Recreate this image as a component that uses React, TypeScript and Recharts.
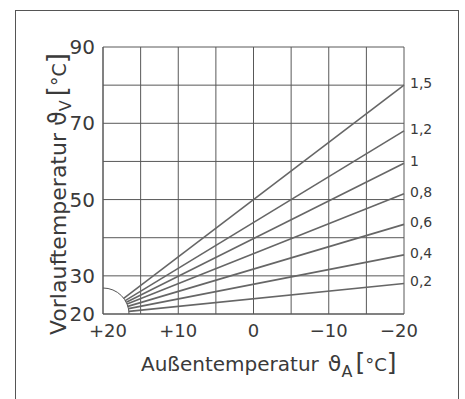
import React from "react";
import { LineChart, Line, XAxis, YAxis, CartesianGrid, ReferenceDot, LabelList } from "recharts";

// Außentemperatur (x) and Vorlauftemperatur (y) grid values
const outsideTicks = [20, 15, 10, 5, 0, -5, -10, -15, -20];
const outsideLabels: Record<string, string> = { "20": "+20", "10": "+10", "0": "0", "-10": "\u221210", "-20": "\u221220" };
const flowTicks = [20, 30, 40, 50, 60, 70, 80, 90];
const flowLabels = [90, 70, 50, 30, 20];

// heating curves: start near the arc, end at -20 °C
const curveNames = ["1,5", "1,2", "1", "0,8", "0,6", "0,4", "0,2"];
const startOutside = [17.25, 17.05, 16.9, 16.8, 16.7, 16.6, 16.55];
const startFlow = [24.1, 23.5, 23.1, 22.6, 22.0, 21.4, 20.7];
const endOutside = -20;
const endFlow = [80, 68, 59.5, 51.5, 43.5, 35.5, 28];

const curves = curveNames.map((name, i) => ({
  name,
  data: [
    { x: startOutside[i], y: startFlow[i] },
    { x: endOutside, y: endFlow[i], tag: name },
  ],
}));

const textColor = "#3a3a3a";
const gridColor = "#585858";
const curveColor = "#666";

function EndLabel(props: any) {
  const vb = props.viewBox || {};
  const x = props.x ?? vb.x;
  const y = props.y ?? vb.y;
  if (props.value === undefined || props.value === null) return null;
  return (
    <text x={x + 6} y={y + 3} fontSize={14} fill={textColor}>
      {props.value}
    </text>
  );
}

// x tick: the outer labels sit a little inside the frame, like the original
function OutsideTick(props: any) {
  const { x, y, payload } = props;
  const label = outsideLabels[String(payload.value)];
  if (!label) return null;
  const shift = payload.value === 20 ? 5 : payload.value === -20 ? -5 : 0;
  return (
    <text x={x + shift} y={y + 15} textAnchor="middle" fontSize={18} fill={textColor}>
      {label}
    </text>
  );
}

function YTitle() {
  return (
    <text x={66} y={335} transform="rotate(-90, 66, 335)" fontSize={22} fill={textColor}>
      Vorlauftemperatur
      <tspan dx={7} fontSize={24}>ϑ</tspan>
      <tspan dy={5} fontSize={16}>V</tspan>
      <tspan dy={-5} dx={4} fontSize={26}>[</tspan>
      <tspan fontSize={19}>°C</tspan>
      <tspan fontSize={26}>]</tspan>
    </text>
  );
}

function XTitle() {
  return (
    <text x={141} y={371} fontSize={20} fill={textColor}>
      Außentemperatur
      <tspan dx={9} fontSize={22}>ϑ</tspan>
      <tspan dy={6} fontSize={16}>A</tspan>
      <tspan dy={-6} dx={3} fontSize={25}>[</tspan>
      <tspan fontSize={18}>°C</tspan>
      <tspan fontSize={25}>]</tspan>
    </text>
  );
}

export default function App() {
  return (
    <div
      style={{
        position: "absolute",
        left: 0,
        top: 0,
        width: 465,
        height: 399,
        background: "#fff",
        fontFamily: "'DejaVu Sans', sans-serif",
        overflow: "hidden",
      }}
    >
      <div
        style={{
          position: "absolute",
          left: 15,
          top: 10,
          width: 442,
          height: 420,
          borderLeft: "1px solid #555",
          borderTop: "1px solid #555",
          borderRight: "1px solid #555",
        }}
      />
      <LineChart
        width={465}
        height={399}
        margin={{ top: 47, right: 61, bottom: 55, left: 43 }}
        style={{ position: "absolute", left: 0, top: 0 }}
      >
        <CartesianGrid stroke={gridColor} strokeWidth={1} />
        <XAxis
          type="number"
          dataKey="x"
          domain={[-20, 20]}
          reversed
          ticks={outsideTicks}
          interval={0}
          height={30}
          tickLine={false}
          axisLine={{ stroke: gridColor }}
          tick={<OutsideTick />}
          label={<XTitle />}
        />
        <YAxis
          type="number"
          dataKey="y"
          domain={[20, 90]}
          ticks={flowTicks}
          interval={0}
          width={60}
          tickLine={false}
          axisLine={{ stroke: gridColor }}
          tick={{ fill: textColor, fontSize: 20 }}
          tickFormatter={(v) => (flowLabels.includes(v) ? String(v) : "")}
          label={<YTitle />}
        />
        {curves.map((c) => (
          <Line
            key={c.name}
            data={c.data}
            dataKey="y"
            stroke={curveColor}
            strokeWidth={1.6}
            dot={false}
            isAnimationActive={false}
          >
            <LabelList dataKey="tag" content={<EndLabel />} />
          </Line>
        ))}
        <ReferenceDot x={20} y={20} r={26} fill="none" stroke="#555" strokeWidth={1} ifOverflow="hidden" />
      </LineChart>
    </div>
  );
}
